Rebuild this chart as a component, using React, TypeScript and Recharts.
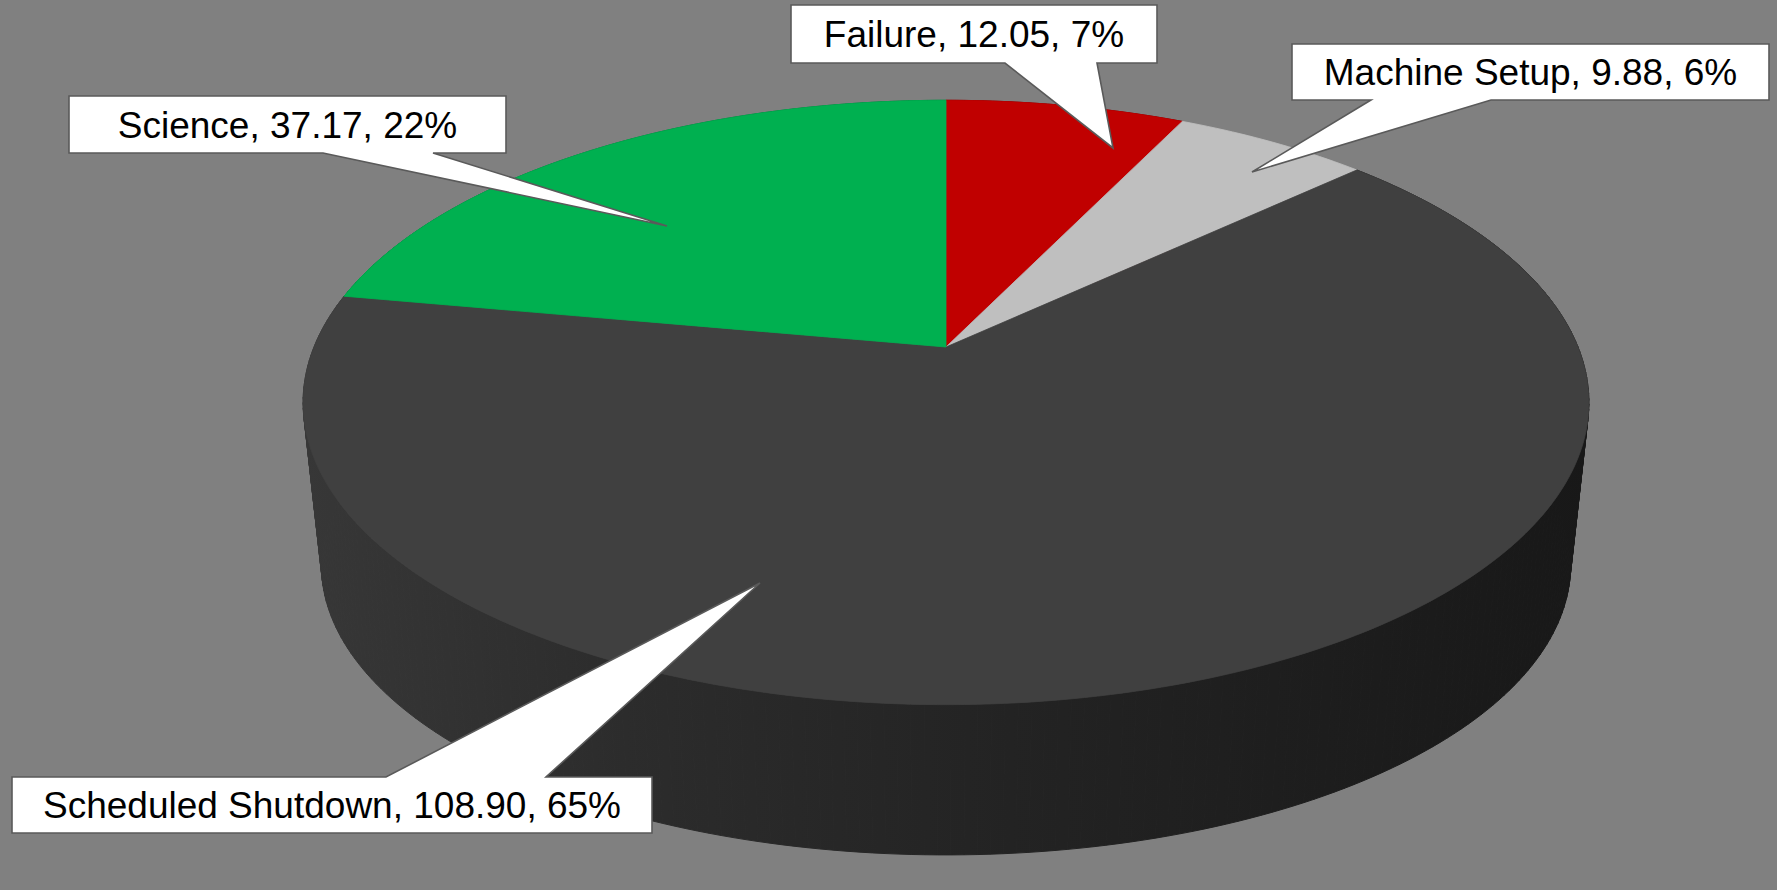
import React from 'react';
import { PieChart, Pie } from 'recharts';

// beam time per category (hours), clockwise from 12 o'clock
const categories = ['Failure', 'Machine Setup', 'Scheduled Shutdown', 'Science'];
const hours = [12.05, 9.88, 108.9, 37.17];
const topColors = ['#C00000', '#BFBFBF', '#404040', '#00B050'];
const sideColors = ['#7a0000', '#8c8c8c', 'url(#shutdownSide)', '#007a38'];

const data = categories.map((name, i) => ({ name, value: hours[i] }));

const W = 1777;
const H = 890;
const CX = 946;
const CY = 347;

// perspective of the tilted disk: top face and bottom face of the cylinder
const TOP = { a: 632, b: 292, k: 0.1835, dy: 0 };
const BOTTOM = { a: 614, b: 280, k: 0.1835, dy: 165 };

// callout boxes [x0, y0, x1, y1], pointer base on one edge, pointer tip
const callouts = [
  { box: [791, 5, 1157, 63], base: [1005, 1097], tip: [1113, 148], edge: 'bottom' },
  { box: [1292, 44, 1769, 100], base: [1371, 1491], tip: [1252, 172], edge: 'bottom' },
  { box: [12, 777, 652, 833], base: [386, 546], tip: [760, 583], edge: 'top' },
  { box: [69, 96, 506, 153], base: [323, 433], tip: [667, 226], edge: 'bottom' },
];

type Face = { a: number; b: number; k: number; dy: number };
type Pt = [number, number];

const project = (f: Face, cx: number, cy: number, deg: number): Pt => {
  const rad = (deg * Math.PI) / 180;
  const u = Math.cos(rad);
  const v = Math.sin(rad);
  const d = 1 + f.k * v;
  return [cx + (f.a * u) / d, cy + f.dy - (f.b * v) / d];
};

const arc = (f: Face, cx: number, cy: number, s: number, e: number) => {
  const n = Math.max(2, Math.ceil(Math.abs(e - s)));
  const pts: Pt[] = [];
  for (let i = 0; i <= n; i++) pts.push(project(f, cx, cy, s + ((e - s) * i) / n));
  return pts;
};

const toPath = (pts: Pt[]) =>
  pts.map((p, i) => `${i ? 'L' : 'M'}${p[0].toFixed(2)},${p[1].toFixed(2)}`).join('') + 'Z';

// outer wall: one quad per degree between matching top and bottom points
const renderSide = (props: any) => {
  const { startAngle, endAngle, index, cx, cy } = props;
  const top = arc(TOP, cx, cy, startAngle, endAngle);
  const bottom = arc(BOTTOM, cx, cy, startAngle, endAngle);
  const c = sideColors[index];
  return (
    <g>
      {top.slice(1).map((p, i) => (
        <path
          key={i}
          d={toPath([top[i], p, bottom[i + 1], bottom[i]])}
          fill={c}
          stroke={c}
          strokeWidth={1}
        />
      ))}
    </g>
  );
};

const renderTop = (props: any) => {
  const { startAngle, endAngle, index, cx, cy } = props;
  const pts: Pt[] = [[cx, cy], ...arc(TOP, cx, cy, startAngle, endAngle)];
  const c = topColors[index];
  return <path d={toPath(pts)} fill={c} stroke={c} strokeWidth={0.8} strokeLinejoin="round" />;
};

const renderCallout = (props: any) => {
  const { index, percent } = props;
  const name = props.name ?? categories[index];
  const value = props.value ?? hours[index];
  const c = callouts[index];
  const [x0, y0, x1, y1] = c.box;
  const [bl, br] = c.base;
  const [tx, ty] = c.tip;
  let d: string;
  if (c.edge === 'bottom') {
    d = `M${x0},${y0}H${x1}V${y1}H${br}L${tx},${ty}L${bl},${y1}H${x0}Z`;
  } else {
    d = `M${x0},${y0}H${bl}L${tx},${ty}L${br},${y0}H${x1}V${y1}H${x0}Z`;
  }
  return (
    <g>
      <path d={d} fill="#ffffff" stroke="#5a5a5a" strokeWidth={1.6} strokeLinejoin="miter" />
      <text
        x={(x0 + x1) / 2}
        y={(y0 + y1) / 2 + 13}
        textAnchor="middle"
        fontFamily="'Liberation Sans', Arial, sans-serif"
        fontSize={37}
        fill="#000000"
      >
        {`${name}, ${Number(value).toFixed(2)}, ${Math.round(percent * 100)}%`}
      </text>
    </g>
  );
};

const pieCommon = {
  data,
  dataKey: 'value',
  nameKey: 'name',
  cx: CX,
  cy: CY,
  outerRadius: 10,
  startAngle: 90,
  endAngle: -270,
  fill: 'none',
  stroke: 'none',
  labelLine: false,
  isAnimationActive: false,
};

export default function App() {
  return (
    <div style={{ width: W, height: H, background: '#808080' }}>
      <style>{'body{margin:0}'}</style>
      <PieChart width={W} height={H} margin={{ top: 0, right: 0, bottom: 0, left: 0 }}>
        <defs>
          <linearGradient id="shutdownSide" gradientUnits="userSpaceOnUse" x1={303} y1={0} x2={1590} y2={0}>
            <stop offset="0%" stopColor="#373737" />
            <stop offset="25%" stopColor="#2c2c2c" />
            <stop offset="55%" stopColor="#232323" />
            <stop offset="100%" stopColor="#181818" />
          </linearGradient>
        </defs>
        <Pie {...(pieCommon as any)} label={renderSide} />
        <Pie {...(pieCommon as any)} label={renderTop} />
        <Pie {...(pieCommon as any)} label={renderCallout} />
      </PieChart>
    </div>
  );
}
